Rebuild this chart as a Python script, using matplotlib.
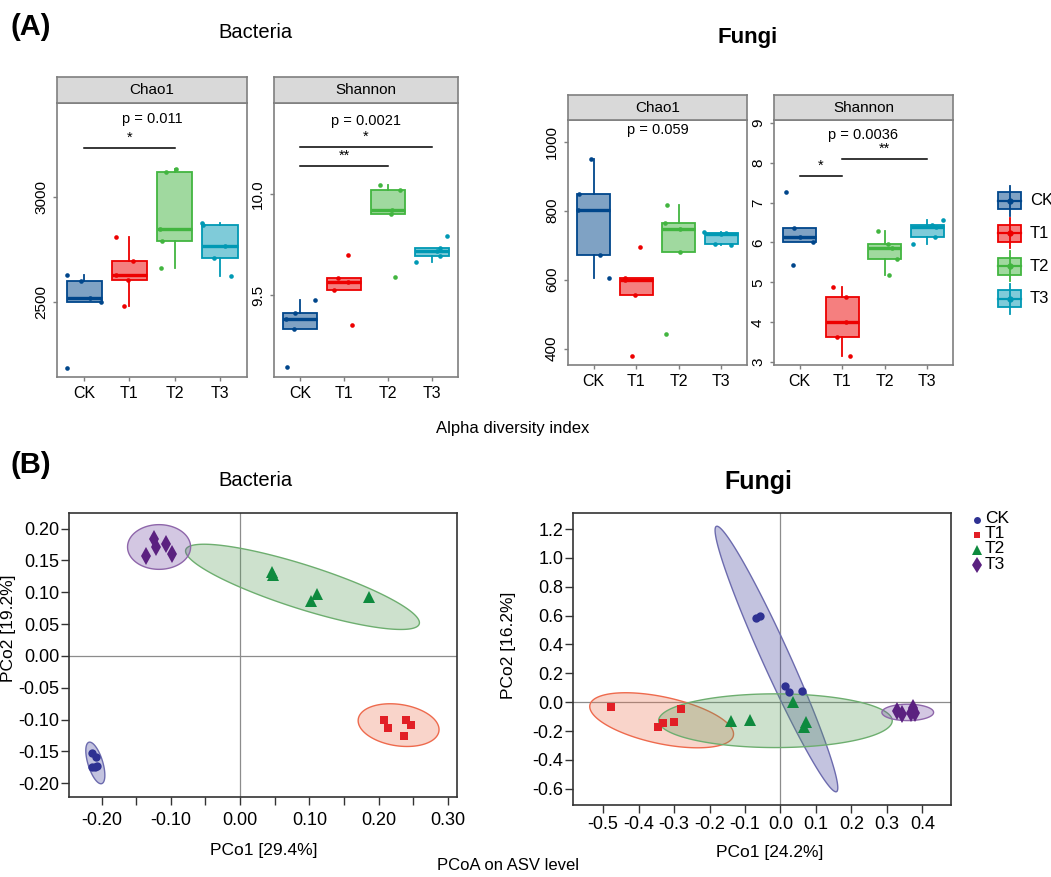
import matplotlib
matplotlib.use("Agg")
import matplotlib.pyplot as plt
import numpy as np
from matplotlib.patches import Rectangle

plt.rcParams['font.family'] = ['Liberation Sans', 'DejaVu Sans']

# ---------------- data ----------------
groups = ['CK', 'T1', 'T2', 'T3']

# alpha diversity, 5 samples per group
bac_chao1 = [[2630, 2598, 2521, 2502, 2186],
             [2808, 2694, 2627, 2603, 2481],
             [3121, 3135, 2848, 2789, 2660],
             [2876, 2865, 2765, 2711, 2625]]
bac_shannon = [[9.479, 9.413, 9.382, 9.332, 9.146],
               [9.701, 9.586, 9.567, 9.528, 9.354],
               [10.046, 10.018, 9.92, 9.90, 9.589],
               [9.794, 9.734, 9.72, 9.696, 9.664]]
fun_chao1 = [[949, 847, 803, 672, 606],
             [696, 605, 598, 556, 379],
             [816, 765, 747, 680, 443],
             [738, 734, 733, 704, 701]]
fun_shannon = [[7.255, 6.36, 6.13, 6.0, 5.44],
               [4.88, 4.64, 4.0, 3.64, 3.16],
               [6.29, 5.96, 5.85, 5.58, 5.19],
               [6.56, 6.44, 6.38, 6.15, 5.96]]

# horizontal jitter of the sample points (same order as values)
bac_chao1_jit = [[-0.38, -0.07, 0.12, 0.37, -0.37], [-0.29, 0.07, -0.30, -0.03, -0.13],
                 [-0.19, 0.02, -0.32, -0.28, -0.31], [-0.40, -0.38, 0.11, -0.12, 0.25]]
bac_shannon_jit = [[0.33, -0.12, -0.32, -0.15, -0.31], [0.10, -0.13, 0.10, -0.22, 0.17],
                   [-0.18, 0.27, 0.10, 0.07, 0.16], [0.35, 0.19, 0.12, 0.19, -0.35]]
fun_chao1_jit = [[-0.06, -0.34, -0.37, 0.15, 0.37], [0.08, -0.27, -0.27, -0.02, -0.11],
                 [-0.28, -0.33, 0.03, 0.03, -0.31], [-0.41, 0.10, 0.0, -0.14, 0.23]]
fun_shannon_jit = [[-0.32, -0.13, 0.02, 0.32, -0.15], [-0.22, 0.10, 0.09, -0.13, 0.18],
                   [-0.17, 0.08, 0.17, 0.28, 0.10], [0.36, 0.10, 0.19, 0.18, -0.35]]

bac_chao1_p, bac_shannon_p = 'p = 0.011', 'p = 0.0021'
fun_chao1_p, fun_shannon_p = 'p = 0.059', 'p = 0.0036'
# significance brackets: (group_a, group_b, height, label)
bac_chao1_sig = [(1, 3, 3233, '*')]
bac_shannon_sig = [(1, 4, 10.230, '*'), (1, 3, 10.140, '**')]
fun_chao1_sig = []
fun_shannon_sig = [(1, 2, 7.67, '*'), (2, 4, 8.09, '**')]

# PCoA coordinates
bac_pc1 = [[-0.2143, -0.2085, -0.2143, -0.2061, -0.2090],
           [0.207, 0.214, 0.239, 0.247, 0.236],
           [0.0462, 0.0481, 0.1107, 0.1021, 0.1858],
           [-0.1237, -0.1213, -0.1069, -0.0977, -0.1358]]
bac_pc2 = [[-0.1524, -0.1590, -0.1743, -0.1733, -0.1750],
           [-0.100, -0.113, -0.100, -0.109, -0.125],
           [0.1314, 0.1277, 0.0974, 0.0869, 0.0927],
           [0.1838, 0.1712, 0.1764, 0.1597, 0.1565]]
fun_pc1 = [[-0.068, -0.058, 0.014, 0.025, 0.060],
           [-0.479, -0.280, -0.300, -0.332, -0.344],
           [0.036, -0.139, -0.085, 0.073, 0.066],
           [0.329, 0.344, 0.373, 0.379, 0.367]]
fun_pc2 = [[0.583, 0.594, 0.113, 0.074, 0.076],
           [-0.030, -0.046, -0.134, -0.146, -0.173],
           [0.000, -0.127, -0.123, -0.134, -0.173],
           [-0.060, -0.081, -0.042, -0.072, -0.076]]

# 95% ellipses: centre and two conjugate semi-diameters
bac_ell_c = [(-0.209, -0.168), (0.2287, -0.1086), (0.090, 0.1086), (-0.117, 0.1712)]
bac_ell_u = [(0.0092, -0.0325), (0.0583, -0.0055), (0.1685, -0.0583), (0.0455, 0.0)]
bac_ell_v = [(0.0102, 0.0033), (-0.0027, 0.0331), (0.0096, 0.0329), (0.0, 0.0351)]
fun_ell_c = [(-0.0113, 0.2994), (-0.335, -0.125), (-0.0141, -0.128), (0.359, -0.0705)]
fun_ell_u = [(0.1694, -0.9191), (0.2023, -0.1062), (0.3294, 0.0), (0.0729, 0.0)]
fun_ell_v = [(0.0352, 0.0391), (0.0137, 0.1584), (0.0, 0.1861), (0.0, 0.0566)]

# ---------------- styles ----------------
box_cols = ['#00468B', '#ED0000', '#42B540', '#0099B4']
pt_cols = ['#2E3192', '#E21F26', '#0E8A3E', '#5B2180']
ell_face = ['#3B3B98', '#EE7350', '#5A9E5C', '#7046A0']
ell_edge = ['#6C6BAE', '#EE6A4D', '#6DAE6F', '#8E66AA']
markers = ['o', 's', '^', 'd']
msizes = [6, 6, 8, 9]

W, H = 1051, 877
fig = plt.figure(figsize=(W / 100, H / 100), dpi=100)


def px_axes(x0, y0, x1, y1):
    return fig.add_axes([x0 / W, 1 - y1 / H, (x1 - x0) / W, (y1 - y0) / H])


def box_panel(rect, strip_h, title, data, jit, ylim, yticks, ylabels, ptext, py, sigs):
    x0, y0, x1, y1 = rect
    ax = px_axes(x0, y0, x1, y1)
    st = px_axes(x0, y0 - strip_h, x1, y0)
    st.set_facecolor('#D9D9D9')
    st.set_xticks([]); st.set_yticks([])
    for s in st.spines.values():
        s.set_color('#7F7F7F'); s.set_linewidth(1.2)
    st.text(0.5, 0.5, title, ha='center', va='center', fontsize=11, transform=st.transAxes)

    pos = np.arange(1, 5)
    bp = ax.boxplot(data, positions=pos, widths=0.78, patch_artist=True,
                    showfliers=False, showcaps=False, whis=1.5)
    for i, c in enumerate(box_cols):
        bp['boxes'][i].set(facecolor=matplotlib.colors.to_rgba(c, 0.5), edgecolor=c, linewidth=1.3)
        bp['medians'][i].set(color=c, linewidth=2.4)
        for w in bp['whiskers'][2 * i:2 * i + 2]:
            w.set(color=c, linewidth=1.3)
        ax.scatter(pos[i] + np.array(jit[i]), data[i], s=11, color=c, zorder=4, linewidths=0)

    for a, b, h, lab in sigs:
        ax.plot([a, b], [h, h], color='black', lw=1.1)
        ax.text((a + b) / 2, h + (ylim[1] - ylim[0]) * 0.012, lab, ha='center', va='bottom', fontsize=10.5)
    ax.text(2.5, py, ptext, ha='center', va='center', fontsize=10.5)

    ax.set_xlim(0.4, 4.6)
    ax.set_ylim(*ylim)
    ax.set_xticks(pos)
    ax.set_xticklabels(groups, fontsize=11.5)
    ax.set_yticks(yticks)
    ax.set_yticklabels(ylabels, fontsize=11, rotation=90, va='center')
    ax.tick_params(length=3, color='#7F7F7F', width=1)
    for s in ax.spines.values():
        s.set_color('#7F7F7F'); s.set_linewidth(1.2)
    return ax


box_panel((57, 103, 247, 377), 26, 'Chao1', bac_chao1, bac_chao1_jit, (2143, 3448),
          [2500, 3000], ['2500', '3000'], bac_chao1_p, 3373, bac_chao1_sig)
box_panel((274, 103, 458, 377), 26, 'Shannon', bac_shannon, bac_shannon_jit, (9.097, 10.449),
          [9.5, 10.0], ['9.5', '10.0'], bac_shannon_p, 10.359, bac_shannon_sig)
box_panel((568, 120, 747, 365), 25, 'Chao1', fun_chao1, fun_chao1_jit, (352.7, 1062.8),
          [400, 600, 800, 1000], ['400', '600', '800', '1000'], fun_chao1_p, 1034, fun_chao1_sig)
box_panel((774, 120, 953, 365), 25, 'Shannon', fun_shannon, fun_shannon_jit, (2.93, 9.07),
          list(range(3, 10)), [str(v) for v in range(3, 10)], fun_shannon_p, 8.69, fun_shannon_sig)

# legend for the boxplots
lg = px_axes(990, 180, 1051, 320)
lg.set_xlim(990, 1051); lg.set_ylim(320, 180); lg.axis('off')
for i, (g, c) in enumerate(zip(groups, box_cols)):
    yc = 200.5 + i * 32.8
    lg.plot([1009.5, 1009.5], [yc - 15, yc + 15], color=c, lw=1.3)
    lg.add_patch(Rectangle((998, yc - 8.5), 23, 17, facecolor='white', edgecolor='none'))
    lg.add_patch(Rectangle((998, yc - 8.5), 23, 17, facecolor=matplotlib.colors.to_rgba(c, 0.5),
                           edgecolor=c, lw=1.3))
    lg.plot([998, 1021], [yc, yc], color=c, lw=1.6)
    lg.plot([1009.5], [yc], 'o', color=c, ms=3.5)
    lg.text(1030, yc, g, fontsize=12, va='center', ha='left')


# ---------------- PCoA ----------------
def draw_ellipse(ax, c, u, v, face, edge):
    t = np.linspace(0, 2 * np.pi, 200)
    x = c[0] + u[0] * np.cos(t) + v[0] * np.sin(t)
    y = c[1] + u[1] * np.cos(t) + v[1] * np.sin(t)
    ax.fill(x, y, facecolor=matplotlib.colors.to_rgba(face, 0.3), edgecolor=edge, lw=1.0, zorder=2)


def pcoa_panel(rect, pc1, pc2, ec, eu, ev, xlim, ylim, xmaj, xmin, ymaj, fmt, xpad):
    ax = px_axes(*rect)
    ax.axvline(0, color='#8C8C8C', lw=0.9, zorder=1)
    ax.axhline(0, color='#8C8C8C', lw=0.9, zorder=1)
    for i in range(4):
        draw_ellipse(ax, ec[i], eu[i], ev[i], ell_face[i], ell_edge[i])
    for i in range(4):
        ax.plot(pc1[i], pc2[i], linestyle='none', marker=markers[i], ms=msizes[i],
                color=pt_cols[i], markeredgewidth=0, zorder=3)
    ax.set_xlim(*xlim); ax.set_ylim(*ylim)
    ax.set_xticks(xmaj)
    ax.set_xticklabels([fmt % (v + 0.0) for v in xmaj], fontsize=13)
    if xmin is not None:
        ax.set_xticks(xmin, minor=True)
    ax.set_yticks(ymaj)
    ax.set_yticklabels([fmt % (v + 0.0) for v in ymaj], fontsize=13)
    ax.tick_params(which='both', direction='out', length=6, width=1, color='#333333', pad=1)
    ax.tick_params(axis='x', pad=xpad)
    for s in ax.spines.values():
        s.set_color('#333333'); s.set_linewidth(1.2)
    return ax


bx = np.round(np.arange(-0.2, 0.31, 0.1), 2)
bxm = np.round(np.arange(-0.15, 0.31, 0.1), 2)
by = np.round(np.arange(-0.2, 0.21, 0.05), 2)
pcoa_panel((69, 513, 457, 797), bac_pc1, bac_pc2, bac_ell_c, bac_ell_u, bac_ell_v,
           (-0.247, 0.313), (-0.2215, 0.2246), bx, bxm, by, '%.2f', 5)

fx = np.round(np.arange(-0.5, 0.41, 0.1), 1)
fy = np.round(np.arange(-0.6, 1.21, 0.2), 1)
pcoa_panel((573, 513, 951, 805), fun_pc1, fun_pc2, fun_ell_c, fun_ell_u, fun_ell_v,
           (-0.585, 0.481), (-0.712, 1.311), fx, None, fy, '%.1f', 2)

# legend for PCoA
pl = px_axes(968, 508, 1051, 572)
pl.set_xlim(968, 1051); pl.set_ylim(572, 508); pl.axis('off')
for i, g in enumerate(groups):
    yc = 518.5 + i * 15.2
    pl.plot([977], [yc + 1], marker=markers[i], ms=msizes[i] - 1, color=pt_cols[i],
            markeredgewidth=0, linestyle='none')
    pl.text(985, yc, g, fontsize=12.5, va='center', ha='left')

# ---------------- texts ----------------
def ftext(x, y, s, **kw):
    fig.text(x / W, 1 - y / H, s, **kw)


ftext(10, 27, '(A)', fontsize=21, fontweight='bold', va='center', ha='left')
ftext(10, 465, '(B)', fontsize=21, fontweight='bold', va='center', ha='left')
ftext(255, 32, 'Bacteria', fontsize=14.5, ha='center', va='center')
ftext(748, 38, 'Fungi', fontsize=16, fontweight='bold', ha='center', va='center')
ftext(255, 480, 'Bacteria', fontsize=14.5, ha='center', va='center')
ftext(758, 482, 'Fungi', fontsize=18, fontweight='bold', ha='center', va='center')
ftext(513, 429, 'Alpha diversity index', fontsize=12, ha='center', va='center')
ftext(264, 851, 'PCo1 [29.4%]', fontsize=12.5, ha='center', va='center')
ftext(770, 852, 'PCo1 [24.2%]', fontsize=12.5, ha='center', va='center')
ftext(508, 866, 'PCoA on ASV level', fontsize=12, ha='center', va='center')
ftext(9, 628, 'PCo2 [19.2%]', fontsize=12.5, ha='center', va='center', rotation=90)
ftext(508, 645, 'PCo2 [16.2%]', fontsize=12.5, ha='center', va='center', rotation=90)

fig.savefig('out.png', dpi=100)
